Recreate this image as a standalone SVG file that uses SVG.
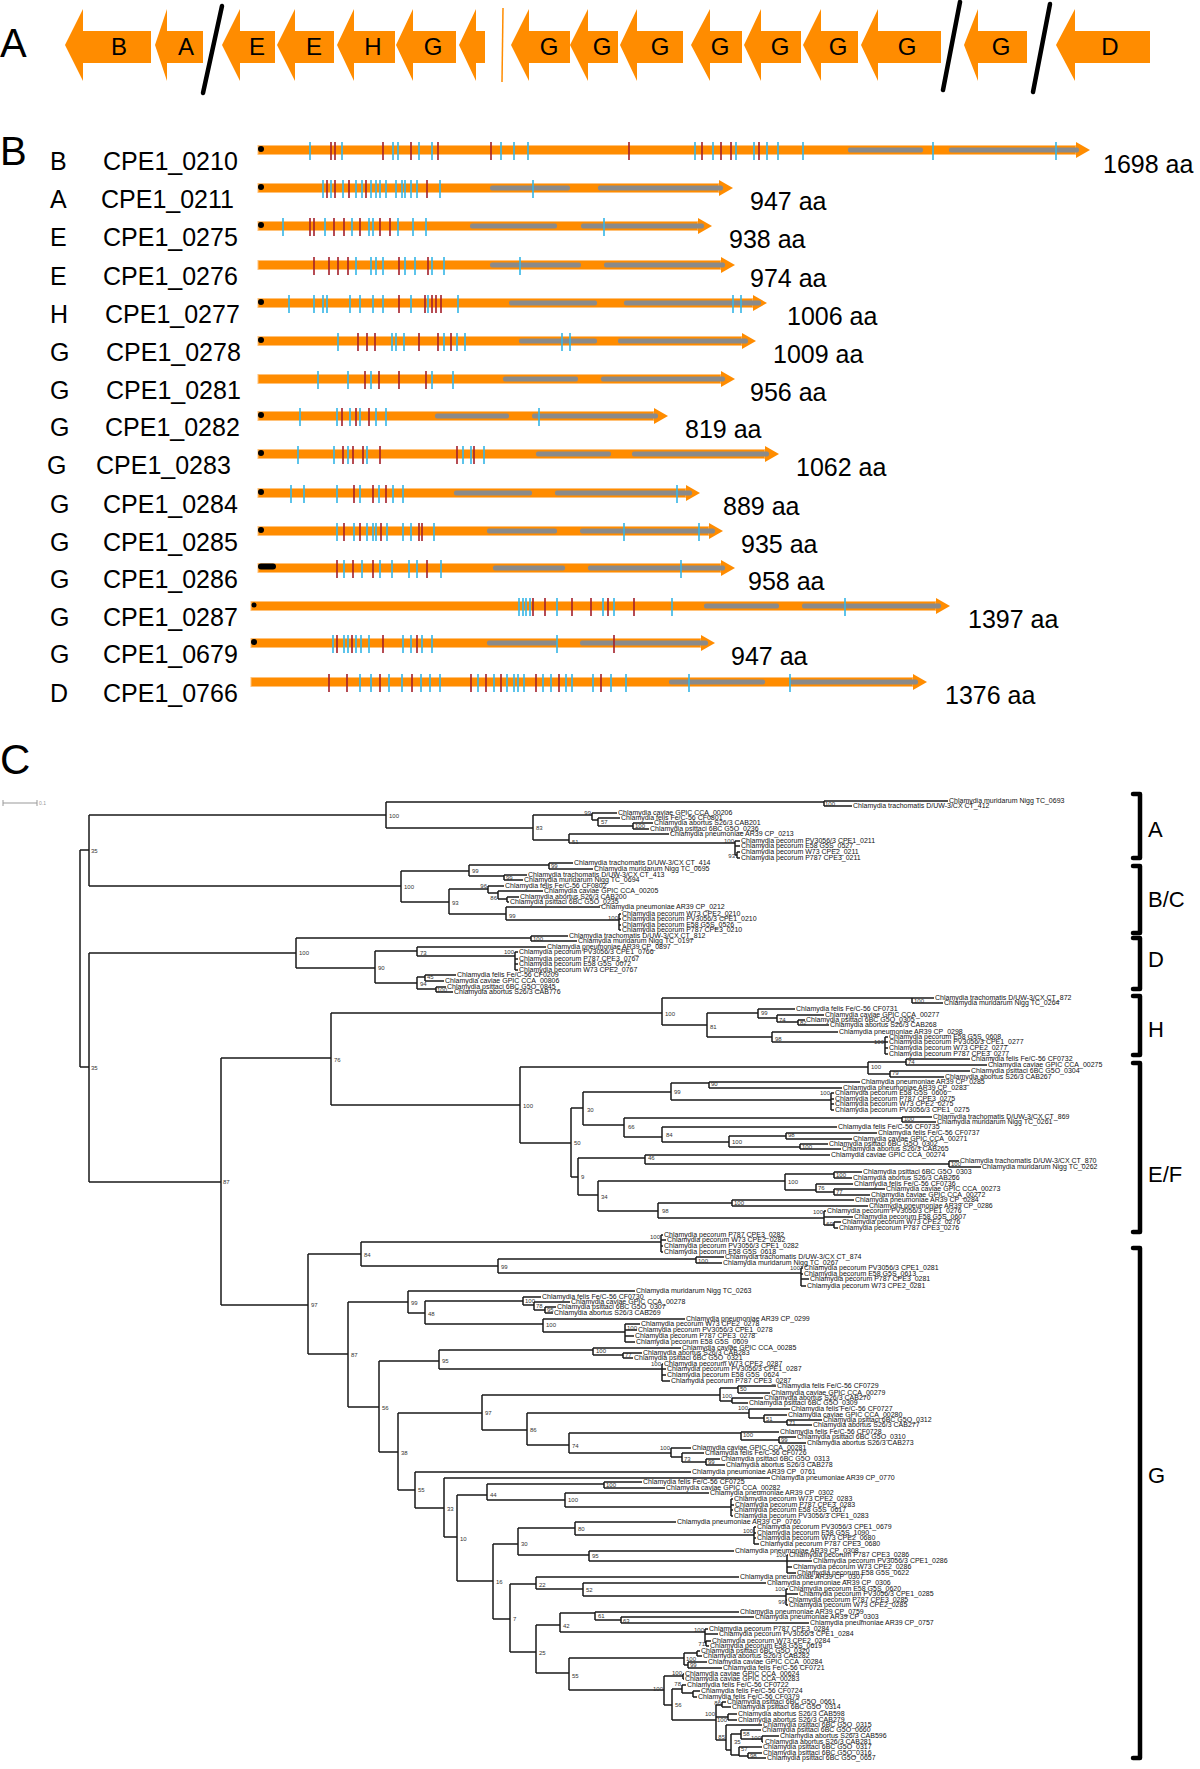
<svg xmlns="http://www.w3.org/2000/svg" width="1200" height="1769" viewBox="0 0 1200 1769">
<style>
.t{font-family:"Liberation Sans",Arial,Helvetica,sans-serif}
.big{font-size:40px}
.al{font-size:24px;text-anchor:middle}
.rl{font-size:25px}
.o{fill:#FF8C00}
.bar{fill:#FF8C00;stroke:#FFC27A;stroke-width:1}
.gs{fill:#8A8A8A}
.tc{stroke:#35B6E6;stroke-width:1.6;fill:none}
.tr{stroke:#A3202A;stroke-width:1.6;fill:none}
.sl{stroke:#000;stroke-width:4.5;stroke-linecap:round}
.tree{fill:none;stroke:#1a1a1a;stroke-width:1.5}
.lf{font-size:7px;fill:#111}
.bs{font-size:6px;fill:#333}
.be{font-size:6px;fill:#333;text-anchor:end}
.br{fill:none;stroke:#000;stroke-width:4.5;stroke-linecap:round;stroke-linejoin:round}
.cl{font-size:22px}
</style>

<!-- Panel A -->
<g id="panelA">
<text class="t big" x="0" y="57">A</text>
<g id="a-B"><polygon class="o" points="65,45 83,9 83,31 151,31 151,63 83,63 83,81"/><text class="t al" x="119" y="55">B</text></g>
<g id="a-A"><polygon class="o" points="155,45 167,9 167,31 203,31 203,63 167,63 167,81"/><text class="t al" x="186" y="55">A</text></g>
<g id="a-E1"><polygon class="o" points="222,45 240,9 240,31 275,31 275,63 240,63 240,81"/><text class="t al" x="257" y="55">E</text></g>
<g id="a-E2"><polygon class="o" points="277,45 295,9 295,31 334,31 334,63 295,63 295,81"/><text class="t al" x="314" y="55">E</text></g>
<g id="a-H"><polygon class="o" points="337,45 354,9 354,31 395,31 395,63 354,63 354,81"/><text class="t al" x="373" y="55">H</text></g>
<g id="a-G1"><polygon class="o" points="396,45 413,9 413,31 456,31 456,63 413,63 413,81"/><text class="t al" x="433" y="55">G</text></g>
<g id="a-small"><polygon class="o" points="459,45 476,9 476,31 485,31 485,63 476,63 476,81"/></g>
<line x1="503" y1="8" x2="502" y2="82" stroke="#FF8C00" stroke-width="1.5"/>
<g id="a-G2"><polygon class="o" points="511,45 529,9 529,31 570,31 570,63 529,63 529,81"/><text class="t al" x="549" y="55">G</text></g>
<g id="a-G3"><polygon class="o" points="570,45 588,9 588,31 618,31 618,63 588,63 588,81"/><text class="t al" x="602" y="55">G</text></g>
<g id="a-G4"><polygon class="o" points="620,45 637,9 637,31 683,31 683,63 637,63 637,81"/><text class="t al" x="660" y="55">G</text></g>
<g id="a-G5"><polygon class="o" points="691,45 710,9 710,31 742,31 742,63 710,63 710,81"/><text class="t al" x="720" y="55">G</text></g>
<g id="a-G6"><polygon class="o" points="744,45 761,9 761,31 801,31 801,63 761,63 761,81"/><text class="t al" x="780" y="55">G</text></g>
<g id="a-G7"><polygon class="o" points="803,45 821,9 821,31 858,31 858,63 821,63 821,81"/><text class="t al" x="838" y="55">G</text></g>
<g id="a-G8"><polygon class="o" points="861,45 878,9 878,31 941,31 941,63 878,63 878,81"/><text class="t al" x="907" y="55">G</text></g>
<g id="a-G9"><polygon class="o" points="964,45 978,9 978,31 1027,31 1027,63 978,63 978,81"/><text class="t al" x="1001" y="55">G</text></g>
<g id="a-D"><polygon class="o" points="1056,45 1075,9 1075,31 1150,31 1150,63 1075,63 1075,81"/><text class="t al" x="1110" y="55">D</text></g>
<line class="sl" x1="222" y1="6" x2="203" y2="93"/>
<line class="sl" x1="960" y1="2" x2="943" y2="90"/>
<line class="sl" x1="1050" y1="4" x2="1033" y2="92"/>
</g>

<!-- Panel B -->
<g id="panelB">
<text class="t big" x="0" y="165">B</text>

<g id="r0210"><text class="t rl" x="50" y="170">B</text><text class="t rl" x="103" y="170">CPE1_0210</text>
<rect class="bar" x="258" y="145.5" width="818" height="9"/><polygon class="o" points="1076,142 1090,150 1076,158"/>
<rect class="gs" x="848" y="147.5" width="75" height="5" rx="2"/><rect class="gs" x="949" y="147.5" width="130" height="5" rx="2"/>
<path class="tc" d="M310,142V160M342,142V160M393,142V160M398,142V160M419,142V160M432,142V160M501,142V160M514,142V160M528,142V160M695,142V160M713,142V160M736,142V160M754,142V160M767,142V160M778,142V160M803,142V160M933,142V160M1056,142V160"/>
<path class="tr" d="M331,142V160M335,142V160M383,142V160M411,142V160M438,142V160M491,142V160M629,142V160M702,142V160M721,142V160M731,142V160M759,142V160"/>
<circle cx="261" cy="149" r="3"/><text class="t rl" x="1103" y="173">1698 aa</text></g>

<g id="r0211"><text class="t rl" x="50" y="208">A</text><text class="t rl" x="101" y="208">CPE1_0211</text>
<rect class="bar" x="258" y="183.5" width="461" height="9"/><polygon class="o" points="719,180 733,188 719,196"/>
<rect class="gs" x="490" y="185.5" width="80" height="5" rx="2"/><rect class="gs" x="598" y="185.5" width="125" height="5" rx="2"/>
<path class="tc" d="M323,180V198M331,180V198M343,180V198M356,180V198M362,180V198M371,180V198M376,180V198M380,180V198M386,180V198M396,180V198M402,180V198M405,180V198M411,180V198M417,180V198M440,180V198M533,180V198"/>
<path class="tr" d="M327,180V198M335,180V198M349,180V198M366,180V198M427,180V198"/>
<circle cx="261" cy="187" r="3"/><text class="t rl" x="750" y="210">947 aa</text></g>

<g id="r0275"><text class="t rl" x="50" y="246">E</text><text class="t rl" x="103" y="246">CPE1_0275</text>
<rect class="bar" x="258" y="221.5" width="440" height="9"/><polygon class="o" points="698,218 712,226 698,234"/>
<rect class="gs" x="470" y="223.5" width="87" height="5" rx="2"/><rect class="gs" x="581" y="223.5" width="123" height="5" rx="2"/>
<path class="tc" d="M283,218V236M325,218V236M352,218V236M369,218V236M373,218V236M398,218V236M413,218V236M426,218V236M604,218V236"/>
<path class="tr" d="M310,218V236M314,218V236M334,218V236M344,218V236M360,218V236M380,218V236M390,218V236"/>
<circle cx="261" cy="225" r="3"/><text class="t rl" x="729" y="248">938 aa</text></g>

<g id="r0276"><text class="t rl" x="50" y="285">E</text><text class="t rl" x="103" y="285">CPE1_0276</text>
<rect class="bar" x="258" y="260.5" width="463" height="9"/><polygon class="o" points="721,257 735,265 721,273"/>
<rect class="gs" x="490" y="262.5" width="91" height="5" rx="2"/><rect class="gs" x="604" y="262.5" width="121" height="5" rx="2"/>
<path class="tc" d="M356,257V275M371,257V275M376,257V275M383,257V275M405,257V275M415,257V275M432,257V275M444,257V275M520,257V275"/>
<path class="tr" d="M314,257V275M329,257V275M338,257V275M348,257V275M399,257V275M428,257V275"/>
<text class="t rl" x="750" y="287">974 aa</text></g>

<g id="r0277"><text class="t rl" x="50" y="323">H</text><text class="t rl" x="105" y="323">CPE1_0277</text>
<rect class="bar" x="258" y="298.5" width="495" height="9"/><polygon class="o" points="753,295 767,303 753,311"/>
<rect class="gs" x="509" y="300.5" width="88" height="5" rx="2"/><rect class="gs" x="624" y="300.5" width="137" height="5" rx="2"/>
<path class="tc" d="M289,295V313M314,295V313M323,295V313M327,295V313M350,295V313M360,295V313M373,295V313M383,295V313M411,295V313M428,295V313M458,295V313M733,295V313M741,295V313"/>
<path class="tr" d="M399,295V313M425,295V313M432,295V313M436,295V313M441,295V313"/>
<circle cx="261" cy="302" r="3"/><text class="t rl" x="787" y="325">1006 aa</text></g>

<g id="r0278"><text class="t rl" x="50" y="361">G</text><text class="t rl" x="106" y="361">CPE1_0278</text>
<rect class="bar" x="258" y="336.5" width="484" height="9"/><polygon class="o" points="742,333 756,341 742,349"/>
<rect class="gs" x="519" y="338.5" width="78" height="5" rx="2"/><rect class="gs" x="618" y="338.5" width="130" height="5" rx="2"/>
<path class="tc" d="M338,333V351M392,333V351M396,333V351M404,333V351M444,333V351M457,333V351M465,333V351M562,333V351M570,333V351"/>
<path class="tr" d="M358,333V351M367,333V351M375,333V351M419,333V351M438,333V351M451,333V351"/>
<circle cx="261" cy="340" r="3"/><text class="t rl" x="773" y="363">1009 aa</text></g>

<g id="r0281"><text class="t rl" x="50" y="399">G</text><text class="t rl" x="106" y="399">CPE1_0281</text>
<rect class="bar" x="258" y="374.5" width="463" height="9"/><polygon class="o" points="721,371 735,379 721,387"/>
<rect class="gs" x="503" y="376.5" width="75" height="5" rx="2"/><rect class="gs" x="601" y="376.5" width="124" height="5" rx="2"/>
<path class="tc" d="M318,371V389M348,371V389M371,371V389M432,371V389M453,371V389"/>
<path class="tr" d="M365,371V389M379,371V389M399,371V389M426,371V389"/>
<text class="t rl" x="750" y="401">956 aa</text></g>

<g id="r0282"><text class="t rl" x="50" y="436">G</text><text class="t rl" x="105" y="436">CPE1_0282</text>
<rect class="bar" x="258" y="411.5" width="396" height="9"/><polygon class="o" points="654,408 668,416 654,424"/>
<rect class="gs" x="435" y="413.5" width="74" height="5" rx="2"/><rect class="gs" x="532" y="413.5" width="126" height="5" rx="2"/>
<path class="tc" d="M300,408V426M337,408V426M350,408V426M360,408V426M376,408V426M386,408V426M539,408V426"/>
<path class="tr" d="M342,408V426M356,408V426M369,408V426"/>
<circle cx="261" cy="415" r="3"/><text class="t rl" x="685" y="438">819 aa</text></g>

<g id="r0283"><text class="t rl" x="47" y="474">G</text><text class="t rl" x="96" y="474">CPE1_0283</text>
<rect class="bar" x="258" y="449.5" width="507" height="9"/><polygon class="o" points="765,446 779,454 765,462"/>
<rect class="gs" x="536" y="451.5" width="75" height="5" rx="2"/><rect class="gs" x="632" y="451.5" width="137" height="5" rx="2"/>
<path class="tc" d="M298,446V464M334,446V464M348,446V464M367,446V464M463,446V464M471,446V464M484,446V464"/>
<path class="tr" d="M343,446V464M353,446V464M363,446V464M380,446V464M457,446V464M474,446V464"/>
<circle cx="261" cy="453" r="3"/><text class="t rl" x="796" y="476">1062 aa</text></g>

<g id="r0284"><text class="t rl" x="50" y="513">G</text><text class="t rl" x="103" y="513">CPE1_0284</text>
<rect class="bar" x="258" y="488.5" width="428" height="9"/><polygon class="o" points="686,485 700,493 686,501"/>
<rect class="gs" x="454" y="490.5" width="78" height="5" rx="2"/><rect class="gs" x="555" y="490.5" width="137" height="5" rx="2"/>
<path class="tc" d="M291,485V503M304,485V503M337,485V503M360,485V503M379,485V503M393,485V503M403,485V503M677,485V503"/>
<path class="tr" d="M354,485V503M373,485V503M386,485V503"/>
<circle cx="261" cy="492" r="3"/><text class="t rl" x="723" y="515">889 aa</text></g>

<g id="r0285"><text class="t rl" x="50" y="551">G</text><text class="t rl" x="103" y="551">CPE1_0285</text>
<rect class="bar" x="258" y="526.5" width="451" height="9"/><polygon class="o" points="709,523 723,531 709,539"/>
<rect class="gs" x="487" y="528.5" width="70" height="5" rx="2"/><rect class="gs" x="580" y="528.5" width="135" height="5" rx="2"/>
<path class="tc" d="M337,523V541M354,523V541M367,523V541M373,523V541M376,523V541M387,523V541M403,523V541M411,523V541M434,523V541M624,523V541M699,523V541"/>
<path class="tr" d="M344,523V541M360,523V541M381,523V541M419,523V541M422,523V541"/>
<circle cx="261" cy="530" r="3"/><text class="t rl" x="741" y="553">935 aa</text></g>

<g id="r0286"><text class="t rl" x="50" y="588">G</text><text class="t rl" x="103" y="588">CPE1_0286</text>
<rect class="bar" x="258" y="563.5" width="463" height="9"/><polygon class="o" points="721,560 735,568 721,576"/>
<rect class="gs" x="493" y="565.5" width="72" height="5" rx="2"/><rect class="gs" x="588" y="565.5" width="137" height="5" rx="2"/>
<path class="tc" d="M344,560V578M362,560V578M380,560V578M392,560V578M409,560V578M417,560V578M441,560V578M681,560V578"/>
<path class="tr" d="M337,560V578M353,560V578M373,560V578M427,560V578"/>
<rect x="258" y="563.5" width="18" height="6" rx="3"/><text class="t rl" x="748" y="590">958 aa</text></g>

<g id="r0287"><text class="t rl" x="50" y="626">G</text><text class="t rl" x="103" y="626">CPE1_0287</text>
<rect class="bar" x="251" y="601.5" width="685" height="9"/><polygon class="o" points="936,598 950,606 936,614"/>
<rect class="gs" x="704" y="603.5" width="75" height="5" rx="2"/><rect class="gs" x="802" y="603.5" width="139" height="5" rx="2"/>
<path class="tc" d="M519,598V616M523,598V616M526,598V616M530,598V616M557,598V616M603,598V616M614,598V616M672,598V616M845,598V616"/>
<path class="tr" d="M533,598V616M545,598V616M572,598V616M591,598V616M608,598V616M634,598V616"/>
<circle cx="254" cy="605" r="2.5"/><text class="t rl" x="968" y="628">1397 aa</text></g>

<g id="r0679"><text class="t rl" x="50" y="663">G</text><text class="t rl" x="103" y="663">CPE1_0679</text>
<rect class="bar" x="251" y="638.5" width="450" height="9"/><polygon class="o" points="701,635 715,643 701,651"/>
<rect class="gs" x="487" y="640.5" width="70" height="5" rx="2"/><rect class="gs" x="580" y="640.5" width="128" height="5" rx="2"/>
<path class="tc" d="M333,635V653M344,635V653M348,635V653M356,635V653M361,635V653M369,635V653M403,635V653M411,635V653M422,635V653M432,635V653M557,635V653"/>
<path class="tr" d="M337,635V653M352,635V653M383,635V653M417,635V653M614,635V653"/>
<circle cx="254" cy="642" r="3"/><text class="t rl" x="731" y="665">947 aa</text></g>

<g id="r0766"><text class="t rl" x="50" y="702">D</text><text class="t rl" x="103" y="702">CPE1_0766</text>
<rect class="bar" x="251" y="677.5" width="662" height="9"/><polygon class="o" points="913,674 927,682 913,690"/>
<rect class="gs" x="669" y="679.5" width="96" height="5" rx="2"/><rect class="gs" x="790" y="679.5" width="128" height="5" rx="2"/>
<path class="tc" d="M360,674V692M371,674V692M389,674V692M402,674V692M421,674V692M430,674V692M440,674V692M478,674V692M494,674V692M507,674V692M514,674V692M518,674V692M524,674V692M543,674V692M551,674V692M566,674V692M572,674V692M593,674V692M611,674V692M626,674V692M689,674V692M790,674V692"/>
<path class="tr" d="M329,674V692M347,674V692M380,674V692M412,674V692M471,674V692M486,674V692M501,674V692M536,674V692M559,674V692M601,674V692"/>
<text class="t rl" x="945" y="704">1376 aa</text></g>
</g>

<!-- Panel C -->
<g id="panelC">
<text class="t" font-size="42" x="0" y="774">C</text>
<g id="scalebar"><path d="M3,803H37M3,800V806M37,800V806" stroke="#999" stroke-width="1" fill="none"/><text class="t" x="39" y="805" font-size="5" fill="#999">0.1</text></g>

<g id="connectors">
<path class="tree" d="M80,850V1067M80,850H89M80,1067H89
M89,815V886M89,815H386M89,886H401
M386,802V828M386,802H824M386,828H533
M824,801V806M824,801H948M824,806H852
M533,815V840M533,815H592M533,840H569
M592,813V820M592,813H617M592,820H598
M598,818V826M598,818H620M598,826H633
M633,823V829M633,823H653M633,829H649
M569,834V843M569,834H669M569,843H735
M735,841V855M735,841H740M735,846H740M735,855H737M737,852V858M737,852H740M737,858H740
M401,871V902M401,871H469M401,902H449
M469,865V876M469,865H549M469,876H504
M549,863V869M549,863H573M549,869H593
M504,875V880M504,875H527M504,880H523
M449,889V914M449,889H488M449,914H506
M488,886V893M488,886H504M488,893H498
M498,891V899M498,891H543M498,899H507
M507,897V902M507,897H519M507,902H509
M506,907V920M506,907H600M506,920H619
M619,914V930M619,914H621M619,919H621M619,925H621M619,930H621
M89,953V1182M89,953H296M89,1182H221
M296,938V968M296,938H531M296,968H375
M531,936V941M531,936H568M531,941H577
M375,951V983M375,951H417M375,983H417
M417,947V956M417,947H546M417,956H515
M515,952V970M515,952H518M515,959H518M515,964H518M515,970H518
M417,977V989M417,977H425M417,989H436
M425,975V981M425,975H456M425,981H444
M436,987V992M436,987H446M436,992H453
M221,1058V1305M221,1058H331M221,1305H308
M331,1013V1105M331,1013H662M331,1105H520
M662,998V1025M662,998H912M662,1025H707
M912,998V1003M912,998H934M912,1003H943
M707,1013V1037M707,1013H758M707,1037H772
M758,1009V1018M758,1009H795M758,1018H777
M777,1015V1022M777,1015H824M777,1022H798
M798,1020V1025M798,1020H805M798,1025H829
M772,1032V1042M772,1032H838M772,1042H885
M885,1037V1054M885,1037H888M885,1042H888M885,1048H888M885,1054H888
M520,1067V1143M520,1067H868M520,1143H571
M868,1062V1074M868,1062H906M868,1074H890
M906,1059V1065M906,1059H970M906,1065H987
M890,1071V1077M890,1071H970M890,1077H944
M571,1108V1177M571,1108H583M571,1177H578
M583,1092V1125M583,1092H671M583,1125H624
M671,1083V1100M671,1083H709M671,1100H831
M709,1082V1088M709,1082H860M709,1088H842
M831,1093V1110M831,1093H834M831,1099H834M831,1104H834M831,1110H834
M624,1118V1137M624,1118H902M624,1137H662
M902,1117V1122M902,1117H932M902,1122H936
M662,1127V1142M662,1127H837M662,1142H729
M729,1136V1147M729,1136H786M729,1147H800
M786,1133V1139M786,1133H877M786,1139H852
M800,1144V1149M800,1144H828M800,1149H841
M578,1158V1195M578,1158H645M578,1195H598
M645,1155V1164M645,1155H830M645,1164H949
M949,1161V1167M949,1161H959M949,1167H981
M598,1181V1211M598,1181H785M598,1211H658
M785,1174V1190M785,1174H834M785,1190H816
M834,1172V1178M834,1172H862M834,1178H852
M816,1184V1192M816,1184H853M816,1192H834
M834,1189V1195M834,1189H885M834,1195H870
M658,1203V1218M658,1203H732M658,1218H824
M732,1200V1206M732,1200H854M732,1206H868
M824,1211V1225M824,1211H826M824,1217H853M824,1225H834
M834,1222V1228M834,1222H841M834,1228H838
M308,1254V1354M308,1254H361M308,1354H348
M361,1242V1266M361,1242H661M361,1266H498
M661,1235V1252M661,1235H663M661,1240H666M661,1246H663M661,1252H663
M498,1259V1273M498,1259H696M498,1273H801
M696,1257V1263M696,1257H724M696,1263H722
M801,1268V1286M801,1268H803M801,1274H803M801,1279H809M801,1286H806
M348,1302V1407M348,1302H408M348,1407H379
M408,1291V1313M408,1291H635M408,1313H425
M425,1301V1324M425,1301H523M425,1324H543
M523,1297V1305M523,1297H541M523,1305H534
M534,1302V1310M534,1302H570M534,1310H545
M545,1307V1313M545,1307H556M545,1313H553
M543,1319V1332M543,1319H685M543,1332H625
M625,1324V1342M625,1324H640M625,1330H637M625,1336H634M625,1342H635
M379,1361V1452M379,1361H439M379,1452H398
M439,1350V1369M439,1350H593M439,1369H662
M593,1348V1355M593,1348H681M593,1355H623
M623,1353V1358M623,1353H642M623,1358H633
M662,1364V1381M662,1364H663M662,1369H666M662,1375H666M662,1381H670
M398,1413V1490M398,1413H482M398,1490H415
M482,1395V1430M482,1395H720M482,1430H527
M720,1388V1401M720,1388H738M720,1401H732
M738,1386V1393M738,1386H776M738,1393H770
M732,1398V1403M732,1398H763M732,1403H748
M527,1413V1445M527,1413H749M527,1445H569
M749,1409V1418M749,1409H790M749,1418H764
M764,1415V1422M764,1415H787M764,1422H787
M787,1420V1425M787,1420H822M787,1425H812
M569,1433V1453M569,1433H741M569,1453H671
M741,1432V1440M741,1432H779M741,1440H779
M779,1437V1443M779,1437H796M779,1443H806
M671,1448V1457M671,1448H691M671,1457H682
M682,1453V1462M682,1453H704M682,1462H706
M706,1459V1465M706,1459H720M706,1465H725
M415,1472V1508M415,1472H691M415,1508H444
M444,1478V1537M444,1478H770M444,1537H457
M457,1495V1581M457,1495H487M457,1581H493
M487,1484V1500M487,1484H604M487,1500H565
M604,1482V1488M604,1482H642M604,1488H665
M565,1493V1507M565,1493H709M565,1507H731
M731,1499V1516M731,1499H733M731,1505H734M731,1510H733M731,1516H733
M493,1544V1619M493,1544H518M493,1619H510
M518,1528V1555M518,1528H575M518,1555H589
M575,1522V1535M575,1522H676M575,1535H754
M754,1527V1544M754,1527H756M754,1533H756M754,1538H756M754,1544H759
M589,1551V1561M589,1551H734M589,1561H787
M787,1555V1573M787,1555H788M787,1561H812M787,1567H792M787,1573H796
M510,1584V1652M510,1584H536M510,1652H536
M536,1577V1589M536,1577H739M536,1589H583
M583,1583V1596M583,1583H766M583,1596H786
M786,1589V1605M786,1589H788M786,1594H798M786,1600H787M786,1605H788
M536,1625V1673M536,1625H560M536,1673H569
M560,1613V1632M560,1613H595M560,1632H705
M595,1612V1620M595,1612H739M595,1620H621
M621,1617V1623M621,1617H754M621,1623H809
M705,1629V1643M705,1629H708M705,1634H718M705,1643H706
M706,1641V1646M706,1641H711M706,1646H709
M569,1658V1690M569,1658H684M569,1690H664
M684,1653V1665M684,1653H697M684,1665H688
M697,1651V1656M697,1651H700M697,1656H702
M688,1662V1668M688,1662H707M688,1668H722
M664,1676V1705M664,1676H683M664,1705H672
M683,1674V1679M683,1674H684M683,1679H684
M672,1689V1720M672,1689H682M672,1720H716
M682,1685V1693M682,1685H686M682,1693H693
M693,1691V1697M693,1691H700M693,1697H697
M716,1705V1740M716,1705H722M716,1717H728M716,1740H726
M722,1702V1707M722,1702H726M722,1707H731
M728,1714V1720M728,1714H737M728,1720H737
M726,1725V1750M726,1725H762M726,1750H731
M731,1734V1755M731,1734H741M731,1755H739
M741,1730V1739M741,1730H761M741,1739H762
M762,1736V1742M762,1736H779M762,1742H763
M739,1747V1756M739,1747H762M739,1756H748
M748,1753V1758M748,1753H762M748,1758H766"/>
</g>

<g id="bootstrap" class="t">
<text class="bs" x="91" y="853">35</text><text class="bs" x="91" y="1070">35</text><text class="bs" x="223" y="1184">87</text>
<text class="bs" x="389" y="818">100</text><text class="bs" x="536" y="830">83</text><text class="be" x="591" y="815">99</text><text class="bs" x="601" y="824">57</text><text class="bs" x="635" y="828">100</text><text class="bs" x="572" y="844">51</text><text class="be" x="734" y="843">100</text><text class="be" x="735" y="858">93</text><text class="bs" x="825" y="806">100</text>
<text class="bs" x="404" y="889">100</text><text class="bs" x="472" y="873">99</text><text class="bs" x="551" y="868">99</text><text class="bs" x="506" y="880">99</text><text class="bs" x="452" y="905">93</text><text class="be" x="487" y="888">96</text><text class="be" x="497" y="900">86</text><text class="bs" x="509" y="918">99</text><text class="be" x="618" y="920">100</text>
<text class="bs" x="299" y="955">100</text><text class="bs" x="533" y="941">100</text><text class="bs" x="378" y="970">90</text><text class="bs" x="420" y="955">73</text><text class="be" x="514" y="954">100</text><text class="bs" x="420" y="986">94</text><text class="bs" x="427" y="979">45</text><text class="bs" x="437" y="992">100</text>
<text class="bs" x="334" y="1062">76</text><text class="bs" x="665" y="1016">100</text><text class="bs" x="914" y="1003">100</text><text class="bs" x="710" y="1029">81</text><text class="bs" x="761" y="1015">99</text><text class="bs" x="779" y="1022">74</text><text class="bs" x="800" y="1025">82</text><text class="bs" x="775" y="1041">98</text><text class="be" x="884" y="1044">100</text>
<text class="bs" x="523" y="1108">100</text><text class="bs" x="871" y="1069">100</text><text class="bs" x="908" y="1064">74</text><text class="bs" x="892" y="1075">79</text><text class="bs" x="574" y="1145">50</text><text class="bs" x="587" y="1112">30</text><text class="bs" x="674" y="1094">99</text><text class="bs" x="711" y="1086">90</text><text class="be" x="830" y="1095">100</text><text class="bs" x="628" y="1129">66</text><text class="bs" x="904" y="1121">100</text><text class="bs" x="666" y="1137">84</text><text class="bs" x="732" y="1144">100</text><text class="bs" x="788" y="1137">98</text><text class="bs" x="802" y="1149">100</text>
<text class="bs" x="581" y="1179">9</text><text class="bs" x="648" y="1160">46</text><text class="bs" x="951" y="1166">100</text><text class="bs" x="601" y="1199">34</text><text class="bs" x="788" y="1184">100</text><text class="bs" x="836" y="1177">100</text><text class="bs" x="818" y="1190">76</text><text class="bs" x="836" y="1194">77</text><text class="bs" x="662" y="1213">98</text><text class="bs" x="734" y="1205">100</text><text class="be" x="823" y="1214">100</text><text class="be" x="833" y="1226">69</text>
<text class="bs" x="311" y="1307">97</text><text class="bs" x="364" y="1257">84</text><text class="be" x="660" y="1239">100</text><text class="bs" x="501" y="1269">99</text><text class="bs" x="698" y="1263">100</text><text class="be" x="800" y="1270">100</text>
<text class="bs" x="351" y="1357">87</text><text class="bs" x="411" y="1305">99</text><text class="bs" x="428" y="1316">48</text><text class="bs" x="525" y="1303">100</text><text class="bs" x="536" y="1308">78</text><text class="bs" x="547" y="1312">95</text><text class="bs" x="546" y="1327">100</text><text class="bs" x="627" y="1330">100</text>
<text class="bs" x="382" y="1410">56</text><text class="bs" x="442" y="1363">95</text><text class="bs" x="596" y="1353">100</text><text class="bs" x="625" y="1357">77</text><text class="be" x="661" y="1366">100</text>
<text class="bs" x="401" y="1455">38</text><text class="bs" x="485" y="1415">97</text><text class="bs" x="722" y="1398">100</text><text class="bs" x="740" y="1391">50</text><text class="bs" x="530" y="1432">86</text><text class="be" x="748" y="1410">100</text><text class="bs" x="766" y="1421">51</text><text class="bs" x="789" y="1425">71</text>
<text class="bs" x="572" y="1448">74</text><text class="bs" x="743" y="1437">100</text><text class="bs" x="781" y="1442">99</text><text class="be" x="670" y="1450">100</text><text class="bs" x="684" y="1461">73</text><text class="bs" x="708" y="1464">99</text>
<text class="bs" x="418" y="1492">55</text><text class="bs" x="447" y="1511">33</text><text class="bs" x="460" y="1541">10</text><text class="bs" x="490" y="1497">44</text><text class="bs" x="606" y="1487">100</text><text class="bs" x="568" y="1502">100</text>
<text class="bs" x="496" y="1584">16</text><text class="bs" x="521" y="1546">30</text><text class="bs" x="578" y="1531">80</text><text class="be" x="753" y="1533">100</text><text class="bs" x="592" y="1558">95</text><text class="be" x="786" y="1557">100</text>
<text class="bs" x="513" y="1621">7</text><text class="bs" x="539" y="1587">22</text><text class="bs" x="586" y="1592">52</text><text class="be" x="785" y="1591">100</text><text class="be" x="785" y="1604">99</text>
<text class="bs" x="539" y="1655">25</text><text class="bs" x="563" y="1628">42</text><text class="bs" x="598" y="1618">61</text><text class="bs" x="623" y="1623">63</text><text class="be" x="704" y="1632">100</text><text class="be" x="705" y="1646">71</text>
<text class="bs" x="572" y="1678">55</text><text class="bs" x="686" y="1661">100</text><text class="bs" x="690" y="1667">99</text><text class="be" x="663" y="1691">100</text><text class="be" x="682" y="1675">100</text><text class="be" x="681" y="1686">78</text><text class="bs" x="675" y="1707">56</text><text class="be" x="715" y="1716">100</text><text class="be" x="721" y="1705">86</text><text class="be" x="727" y="1722">100</text><text class="be" x="725" y="1739">85</text><text class="bs" x="734" y="1744">35</text><text class="bs" x="743" y="1736">58</text><text class="be" x="761" y="1740">100</text><text class="bs" x="741" y="1751">57</text><text class="bs" x="750" y="1758">98</text>
</g>

<g id="leaves" class="t">
<g id="clade-A">
<text class="lf" x="949" y="803">Chlamydia muridarum Nigg TC_0693</text>
<text class="lf" x="853" y="808">Chlamydia trachomatis D/UW-3/CX CT_412</text>
<text class="lf" x="618" y="815">Chlamydia caviae GPIC CCA_00206</text>
<text class="lf" x="621" y="820">Chlamydia felis Fe/C-56 CF0801</text>
<text class="lf" x="654" y="825">Chlamydia abortus S26/3 CAB201</text>
<text class="lf" x="650" y="831">Chlamydia psittaci 6BC G5O_0236</text>
<text class="lf" x="670" y="836">Chlamydia pneumoniae AR39 CP_0213</text>
<text class="lf" x="741" y="843">Chlamydia pecorum PV3056/3 CPE1_0211</text>
<text class="lf" x="741" y="848">Chlamydia pecorum E58 G5S_0527</text>
<text class="lf" x="741" y="854">Chlamydia pecorum W73 CPE2_0211</text>
<text class="lf" x="741" y="860">Chlamydia pecorum P787 CPE3_0211</text>
</g>
<g id="clade-BC">
<text class="lf" x="574" y="865">Chlamydia trachomatis D/UW-3/CX CT_414</text>
<text class="lf" x="594" y="871">Chlamydia muridarum Nigg TC_0695</text>
<text class="lf" x="528" y="877">Chlamydia trachomatis D/UW-3/CX CT_413</text>
<text class="lf" x="524" y="882">Chlamydia muridarum Nigg TC_0694</text>
<text class="lf" x="505" y="888">Chlamydia felis Fe/C-56 CF0802</text>
<text class="lf" x="544" y="893">Chlamydia caviae GPIC CCA_00205</text>
<text class="lf" x="520" y="899">Chlamydia abortus S26/3 CAB200</text>
<text class="lf" x="510" y="904">Chlamydia psittaci 6BC G5O_0235</text>
<text class="lf" x="601" y="909">Chlamydia pneumoniae AR39 CP_0212</text>
<text class="lf" x="622" y="916">Chlamydia pecorum W73 CPE2_0210</text>
<text class="lf" x="622" y="921">Chlamydia pecorum PV3056/3 CPE1_0210</text>
<text class="lf" x="622" y="927">Chlamydia pecorum E58 G5S_0526</text>
<text class="lf" x="622" y="932">Chlamydia pecorum P787 CPE3_0210</text>
</g>
<g id="clade-D">
<text class="lf" x="569" y="938">Chlamydia trachomatis D/UW-3/CX CT_812</text>
<text class="lf" x="578" y="943">Chlamydia muridarum Nigg TC_0197</text>
<text class="lf" x="547" y="949">Chlamydia pneumoniae AR39 CP_0897</text>
<text class="lf" x="519" y="954">Chlamydia pecorum PV3056/3 CPE1_0766</text>
<text class="lf" x="519" y="961">Chlamydia pecorum P787 CPE3_0767</text>
<text class="lf" x="519" y="966">Chlamydia pecorum E58 G5S_0072</text>
<text class="lf" x="519" y="972">Chlamydia pecorum W73 CPE2_0767</text>
<text class="lf" x="457" y="977">Chlamydia felis Fe/C-56 CF0209</text>
<text class="lf" x="445" y="983">Chlamydia caviae GPIC CCA_00806</text>
<text class="lf" x="447" y="989">Chlamydia psittaci 6BC G5O_0845</text>
<text class="lf" x="454" y="994">Chlamydia abortus S26/3 CAB776</text>
</g>
<g id="clade-H">
<text class="lf" x="935" y="1000">Chlamydia trachomatis D/UW-3/CX CT_872</text>
<text class="lf" x="944" y="1005">Chlamydia muridarum Nigg TC_0264</text>
<text class="lf" x="796" y="1011">Chlamydia felis Fe/C-56 CF0731</text>
<text class="lf" x="825" y="1017">Chlamydia caviae GPIC CCA_00277</text>
<text class="lf" x="806" y="1022">Chlamydia psittaci 6BC G5O_0305</text>
<text class="lf" x="830" y="1027">Chlamydia abortus S26/3 CAB268</text>
<text class="lf" x="839" y="1034">Chlamydia pneumoniae AR39 CP_0298</text>
<text class="lf" x="889" y="1039">Chlamydia pecorum E58 G5S_0608</text>
<text class="lf" x="889" y="1044">Chlamydia pecorum PV3056/3 CPE1_0277</text>
<text class="lf" x="889" y="1050">Chlamydia pecorum W73 CPE2_0277</text>
<text class="lf" x="889" y="1056">Chlamydia pecorum P787 CPE3_0277</text>
</g>
<g id="clade-EF">
<text class="lf" x="971" y="1061">Chlamydia felis Fe/C-56 CF0732</text>
<text class="lf" x="988" y="1067">Chlamydia caviae GPIC CCA_00275</text>
<text class="lf" x="971" y="1073">Chlamydia psittaci 6BC G5O_0304</text>
<text class="lf" x="945" y="1079">Chlamydia abortus S26/3 CAB267</text>
<text class="lf" x="861" y="1084">Chlamydia pneumoniae AR39 CP_0285</text>
<text class="lf" x="843" y="1090">Chlamydia pneumoniae AR39 CP_0283</text>
<text class="lf" x="835" y="1095">Chlamydia pecorum E58 G5S_0606</text>
<text class="lf" x="835" y="1101">Chlamydia pecorum P787 CPE3_0275</text>
<text class="lf" x="835" y="1106">Chlamydia pecorum W73 CPE2_0275</text>
<text class="lf" x="835" y="1112">Chlamydia pecorum PV3056/3 CPE1_0275</text>
<text class="lf" x="933" y="1119">Chlamydia trachomatis D/UW-3/CX CT_869</text>
<text class="lf" x="937" y="1124">Chlamydia muridarum Nigg TC_0261</text>
<text class="lf" x="838" y="1129">Chlamydia felis Fe/C-56 CF0735</text>
<text class="lf" x="878" y="1135">Chlamydia felis Fe/C-56 CF0737</text>
<text class="lf" x="853" y="1141">Chlamydia caviae GPIC CCA_00271</text>
<text class="lf" x="829" y="1146">Chlamydia psittaci 6BC G5O_0302</text>
<text class="lf" x="842" y="1151">Chlamydia abortus S26/3 CAB265</text>
<text class="lf" x="831" y="1157">Chlamydia caviae GPIC CCA_00274</text>
<text class="lf" x="960" y="1163">Chlamydia trachomatis D/UW-3/CX CT_870</text>
<text class="lf" x="982" y="1169">Chlamydia muridarum Nigg TC_0262</text>
<text class="lf" x="863" y="1174">Chlamydia psittaci 6BC G5O_0303</text>
<text class="lf" x="853" y="1180">Chlamydia abortus S26/3 CAB266</text>
<text class="lf" x="854" y="1186">Chlamydia felis Fe/C-56 CF0736</text>
<text class="lf" x="886" y="1191">Chlamydia caviae GPIC CCA_00273</text>
<text class="lf" x="871" y="1197">Chlamydia caviae GPIC CCA_00272</text>
<text class="lf" x="855" y="1202">Chlamydia pneumoniae AR39 CP_0284</text>
<text class="lf" x="869" y="1208">Chlamydia pneumoniae AR39 CP_0286</text>
<text class="lf" x="827" y="1213">Chlamydia pecorum PV3056/3 CPE1_0276</text>
<text class="lf" x="854" y="1219">Chlamydia pecorum E58 G5S_0607</text>
<text class="lf" x="842" y="1224">Chlamydia pecorum W73 CPE2_0276</text>
<text class="lf" x="839" y="1230">Chlamydia pecorum P787 CPE3_0276</text>
</g>
<g id="clade-G">
<text class="lf" x="664" y="1237">Chlamydia pecorum P787 CPE3_0282</text>
<text class="lf" x="667" y="1242">Chlamydia pecorum W73 CPE2_0282</text>
<text class="lf" x="664" y="1248">Chlamydia pecorum PV3056/3 CPE1_0282</text>
<text class="lf" x="664" y="1254">Chlamydia pecorum E58 G5S_0618</text>
<text class="lf" x="725" y="1259">Chlamydia trachomatis D/UW-3/CX CT_874</text>
<text class="lf" x="723" y="1265">Chlamydia muridarum Nigg TC_0267</text>
<text class="lf" x="804" y="1270">Chlamydia pecorum PV3056/3 CPE1_0281</text>
<text class="lf" x="804" y="1276">Chlamydia pecorum E58 G5S_0613</text>
<text class="lf" x="810" y="1281">Chlamydia pecorum P787 CPE3_0281</text>
<text class="lf" x="807" y="1288">Chlamydia pecorum W73 CPE2_0281</text>
<text class="lf" x="636" y="1293">Chlamydia muridarum Nigg TC_0263</text>
<text class="lf" x="542" y="1299">Chlamydia felis Fe/C-56 CF0730</text>
<text class="lf" x="571" y="1304">Chlamydia caviae GPIC CCA_00278</text>
<text class="lf" x="557" y="1309">Chlamydia psittaci 6BC G5O_0307</text>
<text class="lf" x="554" y="1315">Chlamydia abortus S26/3 CAB269</text>
<text class="lf" x="686" y="1321">Chlamydia pneumoniae AR39 CP_0299</text>
<text class="lf" x="641" y="1326">Chlamydia pecorum W73 CPE2_0278</text>
<text class="lf" x="638" y="1332">Chlamydia pecorum PV3056/3 CPE1_0278</text>
<text class="lf" x="635" y="1338">Chlamydia pecorum P787 CPE3_0278</text>
<text class="lf" x="636" y="1344">Chlamydia pecorum E58 G5S_0609</text>
<text class="lf" x="682" y="1350">Chlamydia caviae GPIC CCA_00285</text>
<text class="lf" x="643" y="1355">Chlamydia abortus S26/3 CAB283</text>
<text class="lf" x="634" y="1360">Chlamydia psittaci 6BC G5O_0321</text>
<text class="lf" x="664" y="1366">Chlamydia pecorum W73 CPE2_0287</text>
<text class="lf" x="667" y="1371">Chlamydia pecorum PV3056/3 CPE1_0287</text>
<text class="lf" x="667" y="1377">Chlamydia pecorum E58 G5S_0624</text>
<text class="lf" x="671" y="1383">Chlamydia pecorum P787 CPE3_0287</text>
<text class="lf" x="777" y="1388">Chlamydia felis Fe/C-56 CF0729</text>
<text class="lf" x="771" y="1395">Chlamydia caviae GPIC CCA_00279</text>
<text class="lf" x="764" y="1400">Chlamydia abortus S26/3 CAB270</text>
<text class="lf" x="749" y="1405">Chlamydia psittaci 6BC G5O_0309</text>
<text class="lf" x="791" y="1411">Chlamydia felis Fe/C-56 CF0727</text>
<text class="lf" x="788" y="1417">Chlamydia caviae GPIC CCA_00280</text>
<text class="lf" x="823" y="1422">Chlamydia psittaci 6BC G5O_0312</text>
<text class="lf" x="813" y="1427">Chlamydia abortus S26/3 CAB277</text>
<text class="lf" x="780" y="1434">Chlamydia felis Fe/C-56 CF0728</text>
<text class="lf" x="797" y="1439">Chlamydia psittaci 6BC G5O_0310</text>
<text class="lf" x="807" y="1445">Chlamydia abortus S26/3 CAB273</text>
<text class="lf" x="692" y="1450">Chlamydia caviae GPIC CCA_00281</text>
<text class="lf" x="705" y="1455">Chlamydia felis Fe/C-56 CF0726</text>
<text class="lf" x="721" y="1461">Chlamydia psittaci 6BC G5O_0313</text>
<text class="lf" x="726" y="1467">Chlamydia abortus S26/3 CAB278</text>
<text class="lf" x="692" y="1474">Chlamydia pneumoniae AR39 CP_0761</text>
<text class="lf" x="771" y="1480">Chlamydia pneumoniae AR39 CP_0770</text>
<text class="lf" x="643" y="1484">Chlamydia felis Fe/C-56 CF0725</text>
<text class="lf" x="666" y="1490">Chlamydia caviae GPIC CCA_00282</text>
<text class="lf" x="710" y="1495">Chlamydia pneumoniae AR39 CP_0302</text>
<text class="lf" x="734" y="1501">Chlamydia pecorum W73 CPE2_0283</text>
<text class="lf" x="735" y="1507">Chlamydia pecorum P787 CPE3_0283</text>
<text class="lf" x="734" y="1512">Chlamydia pecorum E58 G5S_0617</text>
<text class="lf" x="734" y="1518">Chlamydia pecorum PV3056/3 CPE1_0283</text>
<text class="lf" x="677" y="1524">Chlamydia pneumoniae AR39 CP_0760</text>
<text class="lf" x="757" y="1529">Chlamydia pecorum PV3056/3 CPE1_0679</text>
<text class="lf" x="757" y="1535">Chlamydia pecorum E58 G5S_1090</text>
<text class="lf" x="757" y="1540">Chlamydia pecorum W73 CPE2_0680</text>
<text class="lf" x="760" y="1546">Chlamydia pecorum P787 CPE3_0680</text>
<text class="lf" x="735" y="1553">Chlamydia pneumoniae AR39 CP_0308</text>
<text class="lf" x="789" y="1557">Chlamydia pecorum P787 CPE3_0286</text>
<text class="lf" x="813" y="1563">Chlamydia pecorum PV3056/3 CPE1_0286</text>
<text class="lf" x="793" y="1569">Chlamydia pecorum W73 CPE2_0286</text>
<text class="lf" x="797" y="1575">Chlamydia pecorum E58 G5S_0622</text>
<text class="lf" x="740" y="1579">Chlamydia pneumoniae AR39 CP_0307</text>
<text class="lf" x="767" y="1585">Chlamydia pneumoniae AR39 CP_0306</text>
<text class="lf" x="789" y="1591">Chlamydia pecorum E58 G5S_0620</text>
<text class="lf" x="799" y="1596">Chlamydia pecorum PV3056/3 CPE1_0285</text>
<text class="lf" x="788" y="1602">Chlamydia pecorum P787 CPE3_0285</text>
<text class="lf" x="789" y="1607">Chlamydia pecorum W73 CPE2_0285</text>
<text class="lf" x="740" y="1614">Chlamydia pneumoniae AR39 CP_0759</text>
<text class="lf" x="755" y="1619">Chlamydia pneumoniae AR39 CP_0303</text>
<text class="lf" x="810" y="1625">Chlamydia pneumoniae AR39 CP_0757</text>
<text class="lf" x="709" y="1631">Chlamydia pecorum P787 CPE3_0284</text>
<text class="lf" x="719" y="1636">Chlamydia pecorum PV3056/3 CPE1_0284</text>
<text class="lf" x="712" y="1643">Chlamydia pecorum W73 CPE2_0284</text>
<text class="lf" x="710" y="1648">Chlamydia pecorum E58 G5S_0619</text>
<text class="lf" x="701" y="1653">Chlamydia psittaci 6BC G5O_0320</text>
<text class="lf" x="703" y="1658">Chlamydia abortus S26/3 CAB282</text>
<text class="lf" x="708" y="1664">Chlamydia caviae GPIC CCA_00284</text>
<text class="lf" x="723" y="1670">Chlamydia felis Fe/C-56 CF0721</text>
<text class="lf" x="685" y="1676">Chlamydia caviae GPIC CCA_00624</text>
<text class="lf" x="685" y="1681">Chlamydia caviae GPIC CCA_00283</text>
<text class="lf" x="687" y="1687">Chlamydia felis Fe/C-56 CF0722</text>
<text class="lf" x="701" y="1693">Chlamydia felis Fe/C-56 CF0724</text>
<text class="lf" x="698" y="1699">Chlamydia felis Fe/C-56 CF0379</text>
<text class="lf" x="727" y="1704">Chlamydia psittaci 6BC G5O_0661</text>
<text class="lf" x="732" y="1709">Chlamydia psittaci 6BC G5O_0314</text>
<text class="lf" x="738" y="1716">Chlamydia abortus S26/3 CAB598</text>
<text class="lf" x="738" y="1722">Chlamydia abortus S26/3 CAB279</text>
<text class="lf" x="763" y="1727">Chlamydia psittaci 6BC G5O_0315</text>
<text class="lf" x="762" y="1732">Chlamydia psittaci 6BC G5O_0660</text>
<text class="lf" x="780" y="1738">Chlamydia abortus S26/3 CAB596</text>
<text class="lf" x="765" y="1744">Chlamydia abortus S26/3 CAB281</text>
<text class="lf" x="763" y="1749">Chlamydia psittaci 6BC G5O_0317</text>
<text class="lf" x="763" y="1755">Chlamydia psittaci 6BC G5O_0316</text>
<text class="lf" x="767" y="1760">Chlamydia psittaci 6BC G5O_0657</text>
</g>
</g>

<g id="clade-brackets" class="t">
<g id="br-A"><path class="br" d="M1133,794H1140V858H1133"/><text class="cl" x="1148" y="837">A</text></g>
<g id="br-BC"><path class="br" d="M1133,866H1140V933H1133"/><text class="cl" x="1148" y="907">B/C</text></g>
<g id="br-D"><path class="br" d="M1133,938H1140V989H1133"/><text class="cl" x="1148" y="967">D</text></g>
<g id="br-H"><path class="br" d="M1133,996H1140V1055H1133"/><text class="cl" x="1148" y="1037">H</text></g>
<g id="br-EF"><path class="br" d="M1133,1063H1140V1232H1133"/><text class="cl" x="1148" y="1182">E/F</text></g>
<g id="br-G"><path class="br" d="M1133,1248H1140V1758H1133"/><text class="cl" x="1148" y="1483">G</text></g>
</g>
</g>
</svg>
